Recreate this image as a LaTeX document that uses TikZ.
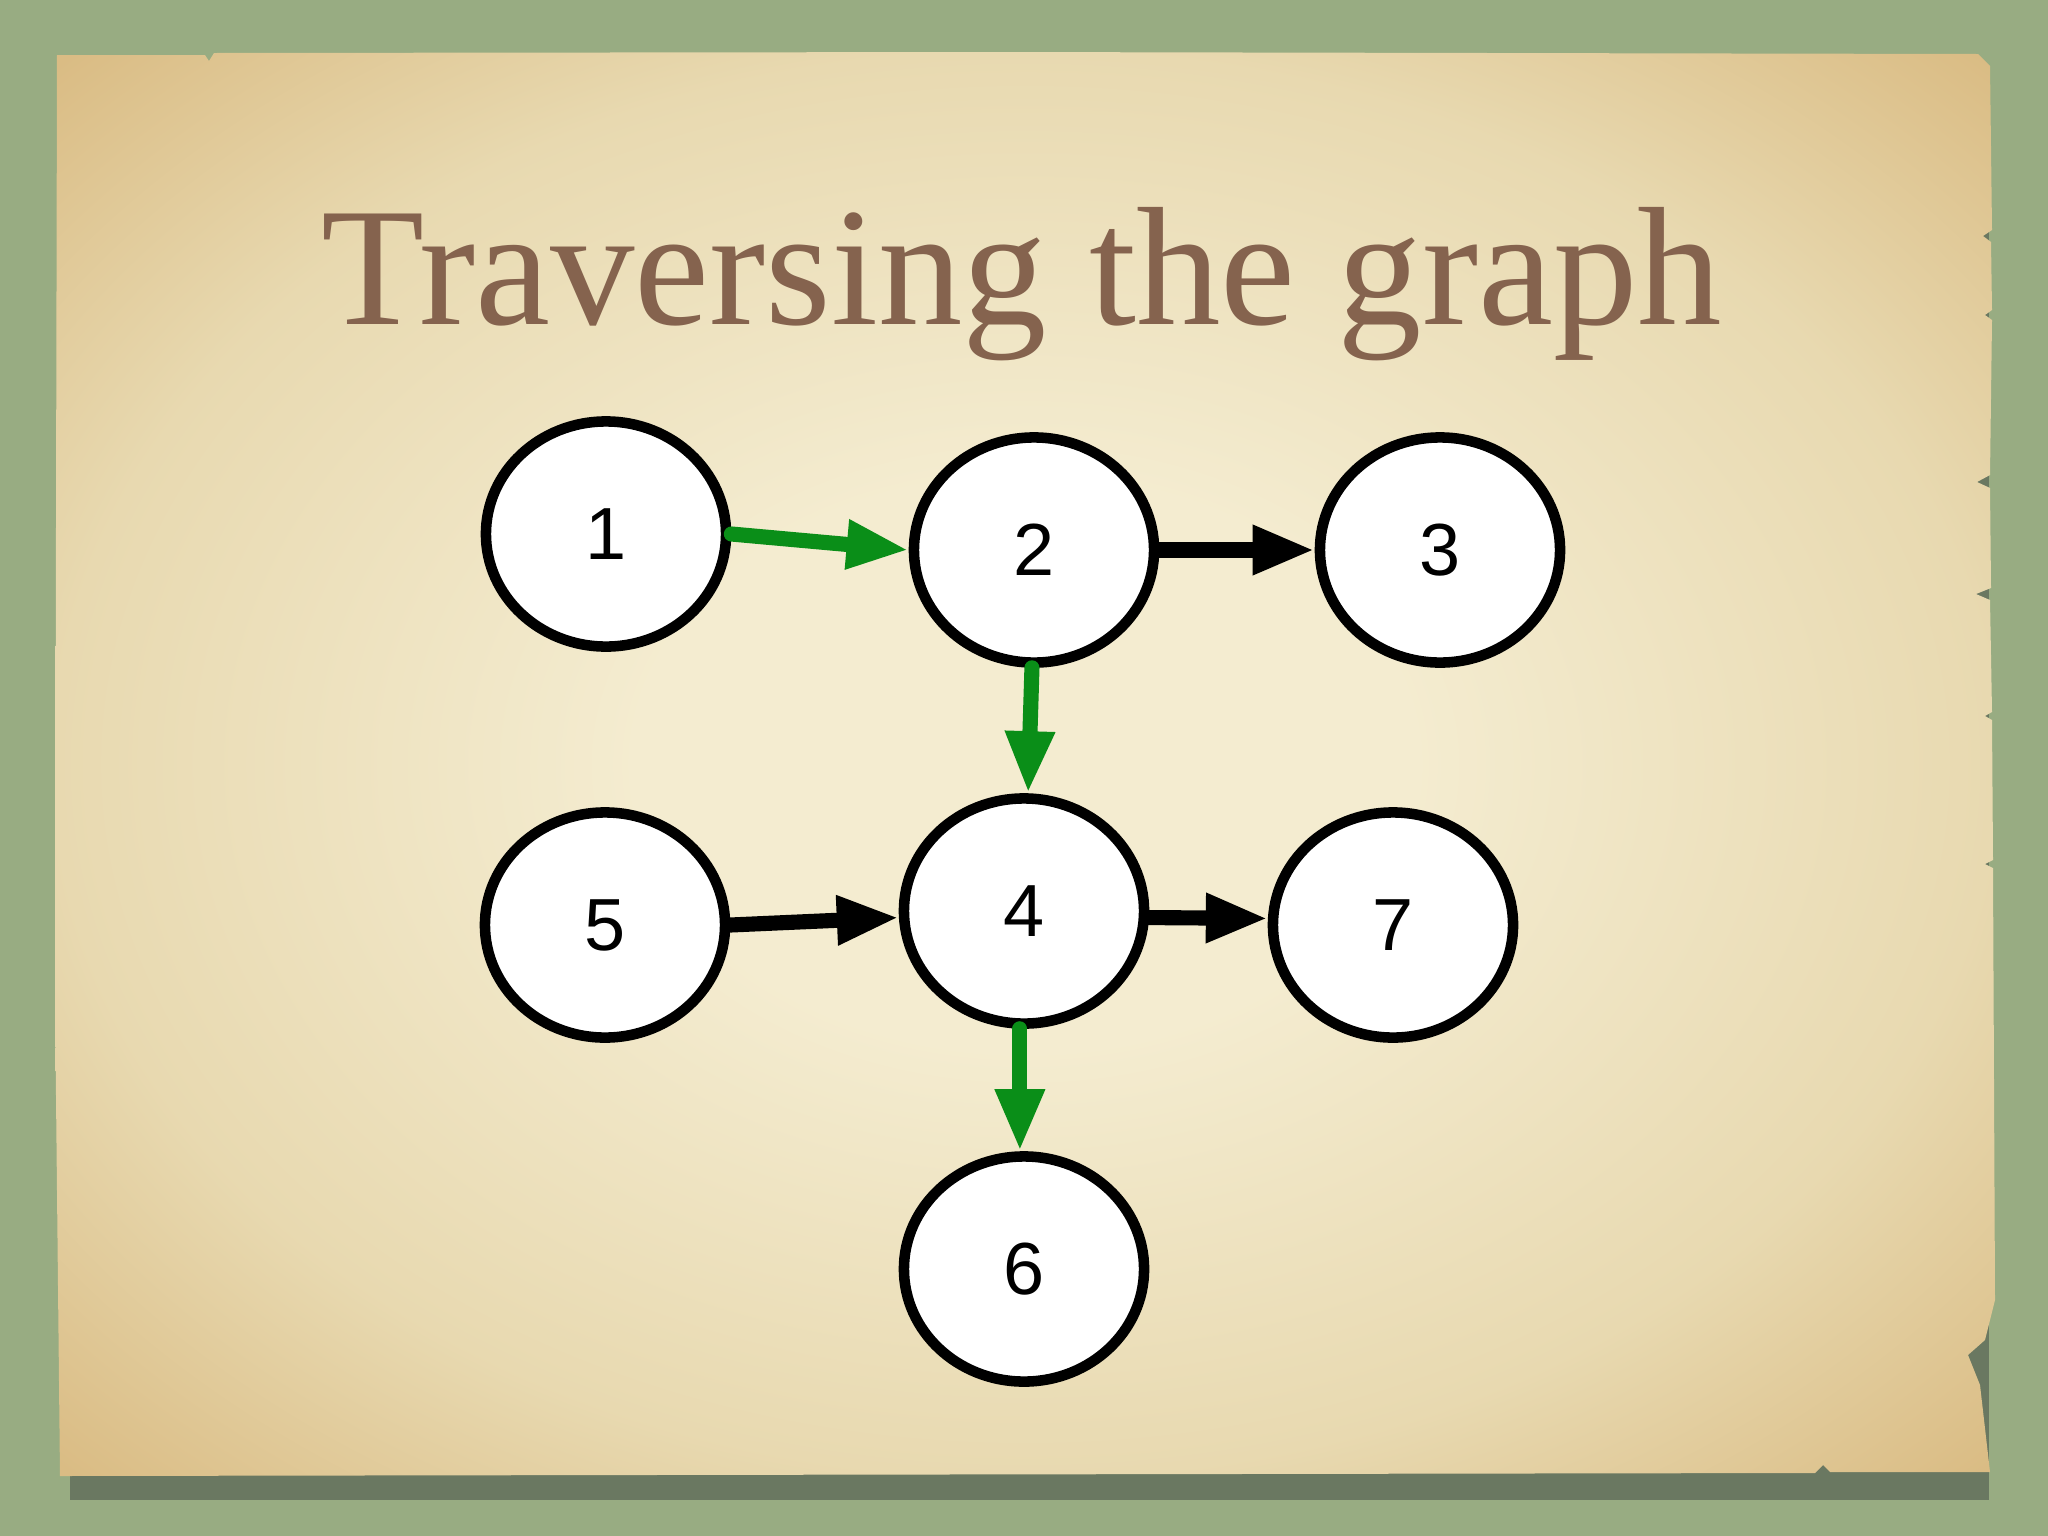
\documentclass[tikz,border=0pt]{standalone}
\usepackage{fontspec}
\setmainfont{Liberation Serif}
\newfontfamily\numfont{Liberation Sans}
\usetikzlibrary{shapes.geometric,arrows.meta}

\definecolor{bggreen}{RGB}{152,172,130}
\definecolor{shadowgreen}{RGB}{98,112,92}
\definecolor{paperlight}{RGB}{244,236,208}
\definecolor{papermid}{RGB}{232,217,176}
\definecolor{paperdark}{RGB}{218,188,132}
\definecolor{titlebrown}{RGB}{133,99,78}
\definecolor{walkgreen}{RGB}{10,142,24}

\pgfdeclareradialshading{paper}{\pgfpoint{0bp}{0bp}}{color(0bp)=(paperlight); color(10bp)=(paperlight);
  color(25bp)=(papermid); color(35bp)=(paperdark); color(50bp)=(paperdark)}

\tikzset{
  vertex/.style={ellipse, draw=black, line width=3pt, fill=white,
    minimum width=2.40cm, minimum height=2.25cm, inner sep=0pt,
    font=\numfont\fontsize{21}{21}\selectfont},
  link/.style={line width=4.3pt, line cap=round, -{Triangle[length=6.2mm,width=4.6mm]}},
  walked/.style={link, draw=walkgreen},
}

\begin{document}
\begin{tikzpicture}[x=0.01cm,y=-0.01cm]
    \useasboundingbox (0,0) rectangle (2048,1536);
    % backdrop and paper
    \fill[bggreen] (0,0) rectangle (2048,1536);
    \fill[shadowgreen,opacity=0.85] (70,90) -- (1989,90) -- (1989,1500) -- (70,1500) -- cycle;
    \shade[shading=paper]
        (57,55) -- (205,55) -- (209,61) -- (214,53) -- (1000,52) -- (1978,54)
        -- (1990,66) -- (1992,230) -- (1983,236) -- (1991,242) -- (1992,310)
        -- (1985,315) -- (1992,320) -- (1990,475) -- (1977,482) -- (1990,488)
        -- (1991,588) -- (1976,594) -- (1990,600) -- (1992,712) -- (1985,716)
        -- (1992,720) -- (1993,860) -- (1985,864) -- (1993,868) -- (1995,1300)
        -- (1985,1340) -- (1968,1355) -- (1980,1385) -- (1990,1472)
        -- (1830,1472) -- (1823,1465) -- (1815,1473) -- (60,1476) -- (55,1000) -- cycle;

    \node[anchor=base, text=titlebrown, font=\fontsize{48}{50}\selectfont] (title)
        at (1022,324) {Traversing the graph};

    \node[vertex] (n1) at (606,534) {1};
    \node[vertex] (n2) at (1034,550) {2};
    \node[vertex] (n3) at (1440,550) {3};
    \node[vertex] (n5) at (605,925) {5};
    \node[vertex] (n4) at (1024,911) {4};
    \node[vertex] (n7) at (1393,925) {7};
    \node[vertex] (n6) at (1024,1269) {6};

    \draw[walked] (n1.east) -- (n2.west);
    \draw[link] (n2.east) -- (n3.west);
    \draw[walked] (n2.-91) -- (n4.88);
    \draw[link] (n5.east) -- (n4.183);
    \draw[link] (n4.-3) -- (n7.177);
    \draw[walked] (n4.-92) -- (n6.92);
\end{tikzpicture}
\end{document}
